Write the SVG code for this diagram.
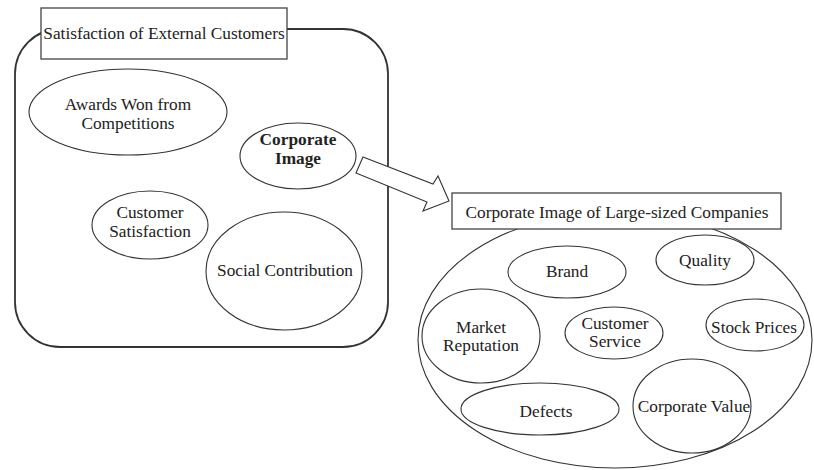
<svg xmlns="http://www.w3.org/2000/svg" width="814" height="470" viewBox="0 0 814 470">
<style>
text{font-family:"Liberation Serif","Times New Roman",serif;font-size:17.3px;fill:#222;text-anchor:middle}
.b{font-weight:bold}
.e{fill:#fff;stroke:#333;stroke-width:1.1}
.box{fill:#fff;stroke:#444;stroke-width:1.3}
.frame{fill:#fff;stroke:#333;stroke-width:1.8}
</style>
<g id="group-external">
<rect class="frame" x="15" y="29" width="373" height="318" rx="45" ry="45"/>
<rect class="box" x="41" y="8" width="246" height="51"/>
<text x="164" y="39">Satisfaction of External Customers</text>
</g>
<g id="node-awards">
<ellipse class="e" cx="128" cy="112" rx="99" ry="43"/>
<text x="128" y="110">Awards Won from</text>
<text x="128" y="129">Competitions</text>
</g>
<g id="node-corporate-image">
<ellipse class="e" cx="298" cy="156" rx="58" ry="33"/>
<text class="b" x="298" y="145">Corporate</text>
<text class="b" x="298" y="164">Image</text>
</g>
<g id="node-customer-satisfaction">
<ellipse class="e" cx="150" cy="225" rx="58" ry="34"/>
<text x="150" y="218">Customer</text>
<text x="150" y="237">Satisfaction</text>
</g>
<g id="node-social">
<ellipse class="e" cx="284" cy="271" rx="78" ry="59"/>
<text x="285" y="276">Social Contribution</text>
</g>
<g id="connectors">
<polygon points="363,157 433,184 438,176 449,201 423,211 427,202 356,173" fill="#fff" stroke="#333" stroke-width="1.1" stroke-linejoin="miter"/>
</g>
<g id="group-large">
<ellipse class="e" cx="615" cy="340" rx="197" ry="128"/>
<rect class="box" x="452" y="193" width="329" height="36"/>
<text x="617" y="218">Corporate Image of Large-sized Companies</text>
</g>
<g id="node-brand">
<ellipse class="e" cx="567" cy="272" rx="59" ry="26"/>
<text x="567" y="277">Brand</text>
</g>
<g id="node-quality">
<ellipse class="e" cx="705" cy="260" rx="49" ry="25"/>
<text x="705" y="266">Quality</text>
</g>
<g id="node-market">
<ellipse class="e" cx="481" cy="336" rx="59" ry="47"/>
<text x="481" y="333">Market</text>
<text x="481" y="351">Reputation</text>
</g>
<g id="node-customer-service">
<ellipse class="e" cx="614" cy="333" rx="49" ry="26"/>
<text x="615" y="329">Customer</text>
<text x="615" y="347">Service</text>
</g>
<g id="node-stock">
<ellipse class="e" cx="755" cy="325" rx="49" ry="26"/>
<text x="754" y="333">Stock Prices</text>
</g>
<g id="node-defects">
<ellipse class="e" cx="540" cy="409" rx="79" ry="26"/>
<text x="546" y="417">Defects</text>
</g>
<g id="node-corporate-value">
<ellipse class="e" cx="692" cy="406" rx="59" ry="47"/>
<text x="694" y="412">Corporate Value</text>
</g>
</svg>
